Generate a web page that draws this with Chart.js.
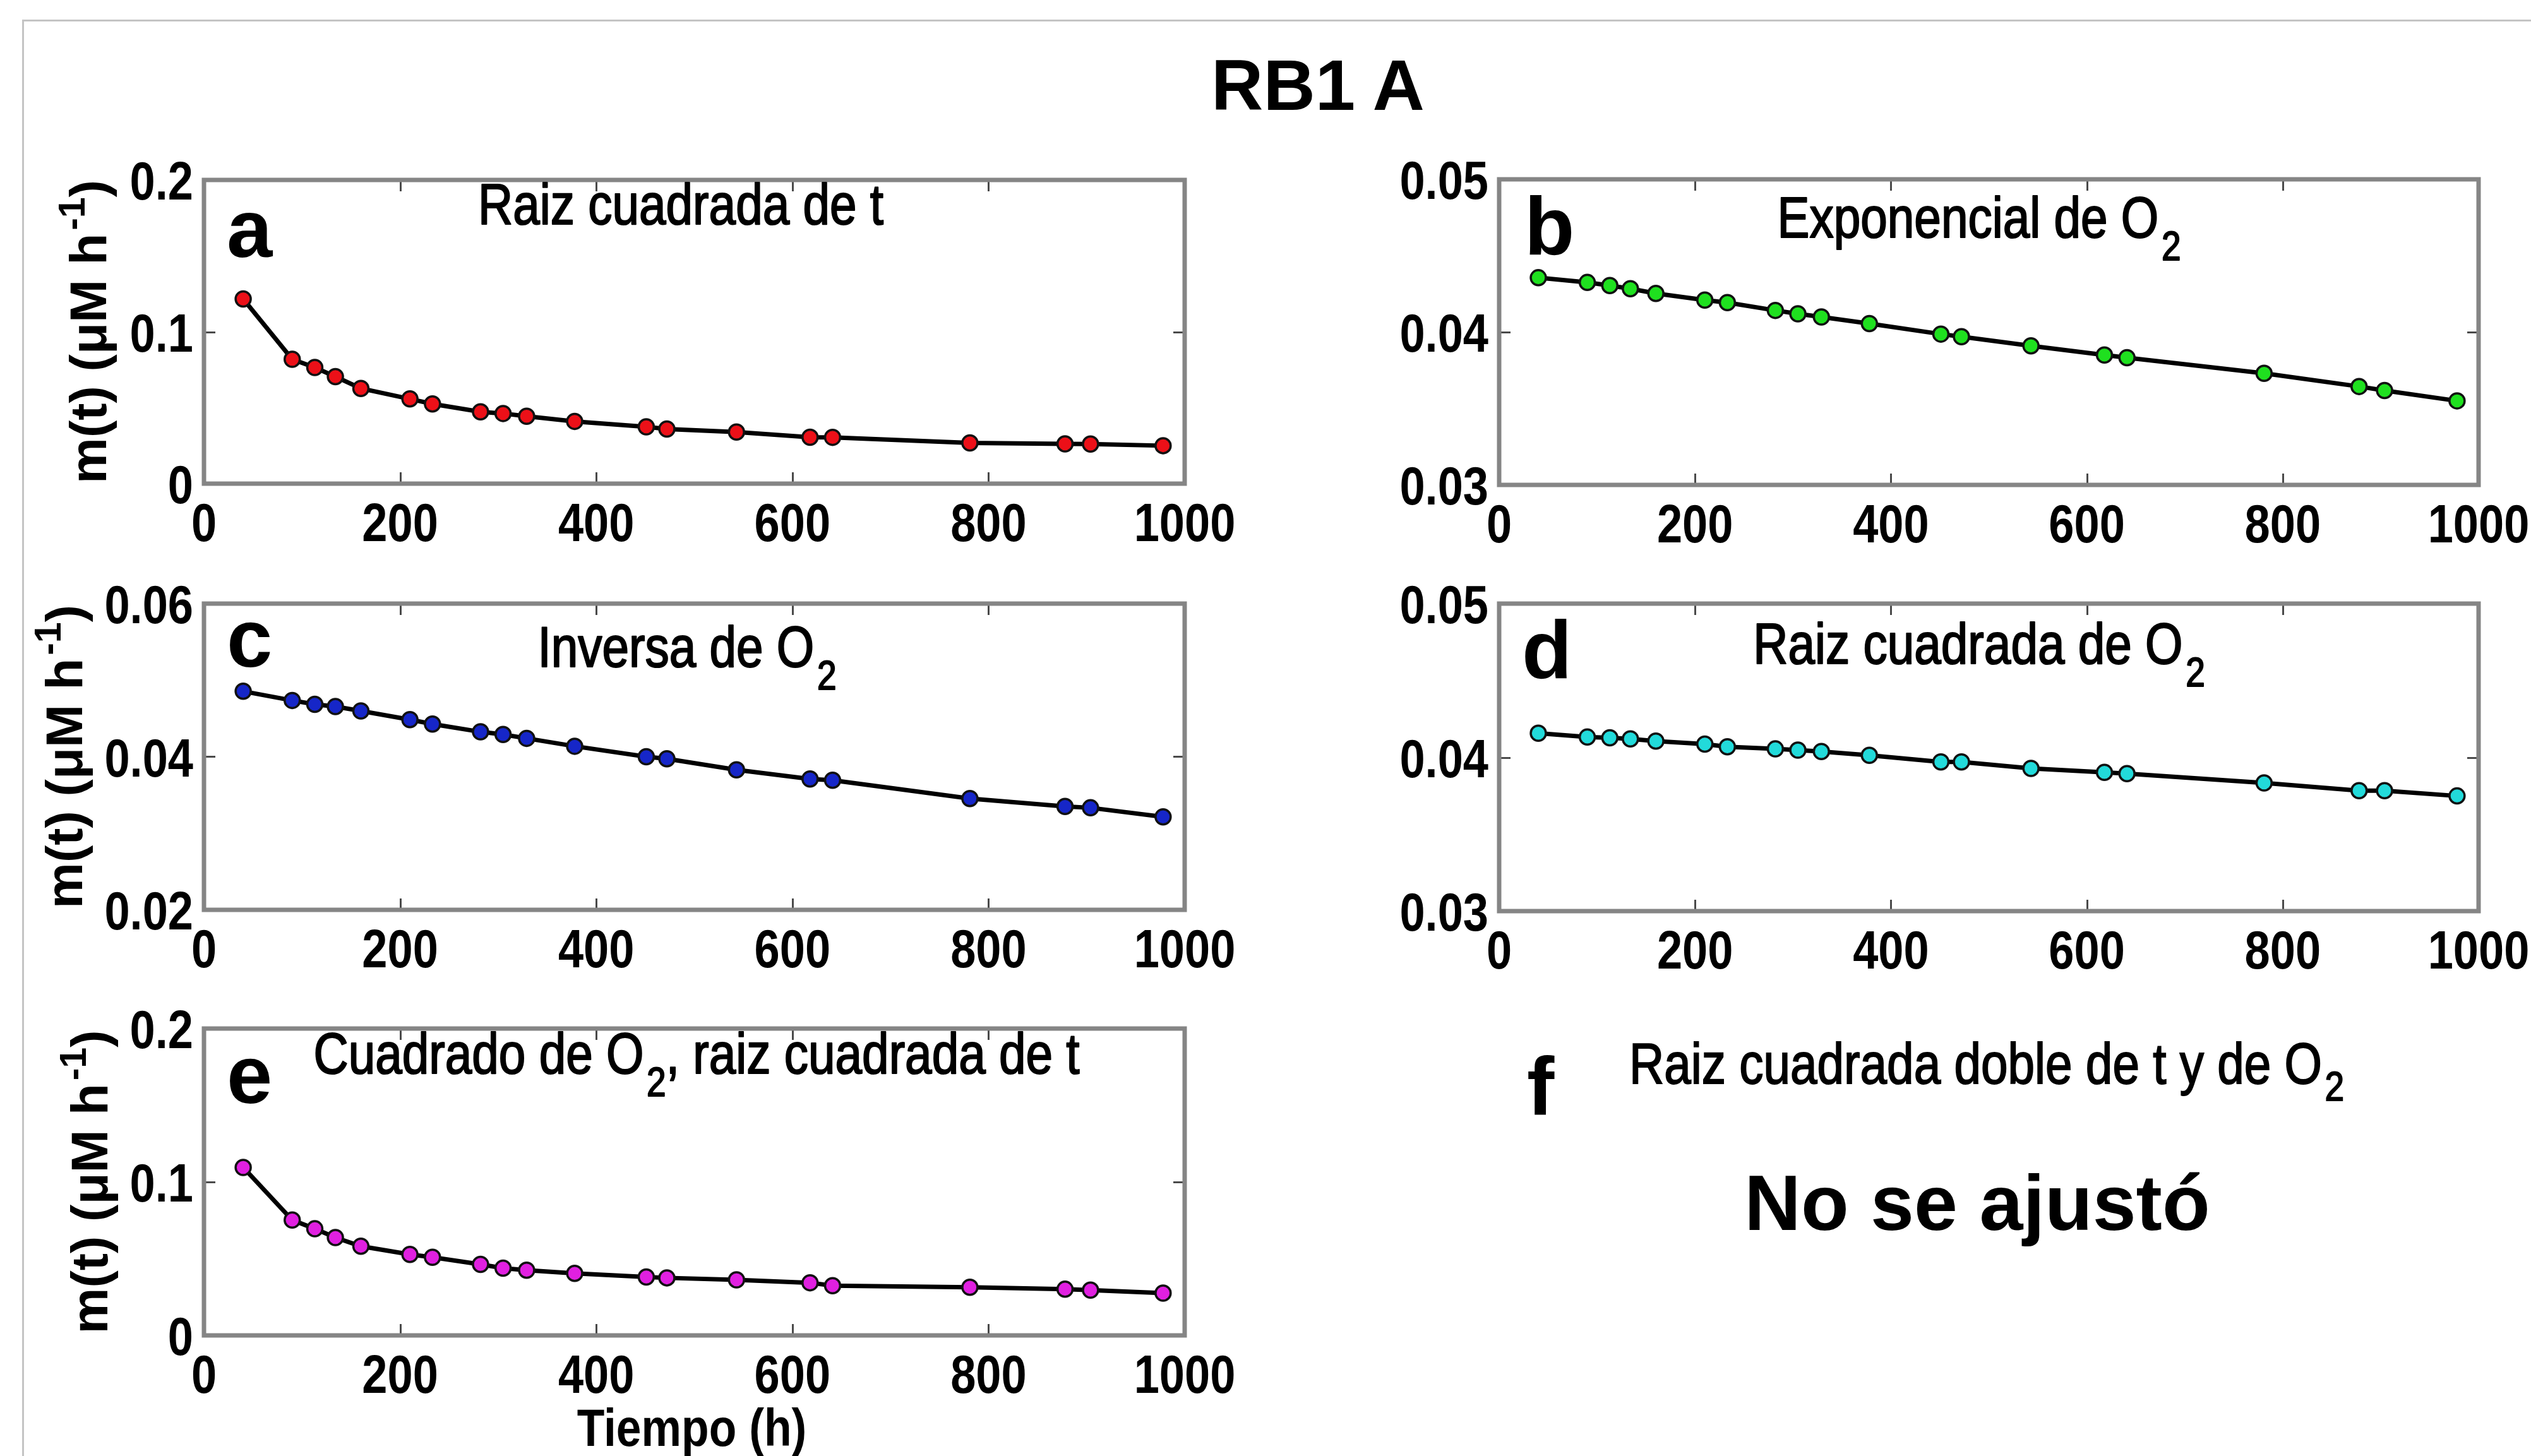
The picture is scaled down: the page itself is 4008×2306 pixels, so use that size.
<!DOCTYPE html>
<html>
<head>
<meta charset="utf-8">
<script src="https://cdn.jsdelivr.net/npm/chart.js@4.4.1/dist/chart.umd.min.js"></script>
<style>
  html, body { margin:0; padding:0; background:#fff; overflow:hidden; }
  #page { position:relative; width:4008px; height:2306px; background:#fff; overflow:hidden; }
  canvas { position:absolute; }
  .txt { position:absolute; white-space:nowrap; color:#000; line-height:1; }
  .frameTop { position:absolute; left:36px; top:31px; width:3972px; height:3px; background:#c4c4c4; }
  .frameLeft { position:absolute; left:35px; top:31px; width:3px; height:2275px; background:#c4c4c4; }
</style>
</head>
<body>
<div id="page">
  <div class="frameTop"></div>
  <div class="frameLeft"></div>
  <div class="txt" id="mainTitle" style="left:1087px; width:2000px; text-align:center; top:69px; font:bold 114px 'Liberation Sans', Arial, sans-serif;">RB1 A</div>
  <div class="txt" style="left:2418px; top:1645px; font:bold 130px 'Liberation Sans', Arial, sans-serif;">f</div>
  <div class="txt" style="left:2146px; width:2000px; text-align:center; top:1634px; font:90px 'Liberation Sans', Arial, sans-serif; -webkit-text-stroke:2px #000; transform:scaleX(0.85); transform-origin:1000px 50%;">Raiz cuadrada doble de t y de O<span style="font-size:0.72em; position:relative; top:0.42em; margin-left:0.08em;">2</span></div>
  <div class="txt" style="left:2131px; width:2000px; text-align:center; top:1834px; font:bold 124px 'Liberation Sans', Arial, sans-serif;">No se ajustó</div>
  <canvas id="cA"></canvas>
  <canvas id="cB"></canvas>
  <canvas id="cC"></canvas>
  <canvas id="cD"></canvas>
  <canvas id="cE"></canvas>
</div>
<script>
// ---------------- DATA ----------------
const tiempo = [40, 90, 113, 134, 160, 210, 233, 282, 305, 329, 378, 451, 472, 543, 618, 641, 781, 878, 904, 978];

const mA = [0.1216, 0.0819, 0.0765, 0.0705, 0.0627, 0.0558, 0.0525, 0.0473, 0.0462, 0.0444, 0.0410, 0.0374, 0.0360, 0.0340, 0.0306, 0.0305, 0.0268, 0.0262, 0.0261, 0.0250];
const mB = [0.04356, 0.04325, 0.04305, 0.04284, 0.04253, 0.04210, 0.04193, 0.04142, 0.04120, 0.04099, 0.04056, 0.03987, 0.03970, 0.03910, 0.03850, 0.03833, 0.03730, 0.03644, 0.03618, 0.03550];
const mC = [0.04855, 0.04735, 0.04684, 0.04656, 0.04598, 0.04485, 0.04427, 0.04325, 0.04290, 0.04240, 0.04137, 0.04000, 0.03973, 0.03829, 0.03710, 0.03692, 0.03453, 0.03350, 0.03333, 0.03214];
const mD = [0.04157, 0.04132, 0.04127, 0.04120, 0.04106, 0.04086, 0.04069, 0.04055, 0.04047, 0.04038, 0.04013, 0.03970, 0.03970, 0.03928, 0.03902, 0.03894, 0.03834, 0.03783, 0.03783, 0.03749];
const mE = [0.1095, 0.0752, 0.0695, 0.0638, 0.0581, 0.0528, 0.0509, 0.0463, 0.0438, 0.0425, 0.0404, 0.0381, 0.0375, 0.0362, 0.0343, 0.0324, 0.0314, 0.0301, 0.0295, 0.0276];

const xTicks = [0, 200, 400, 600, 800, 1000];
const xTickLabels = ['0', '200', '400', '600', '800', '1000'];

const yTicksA = [0, 0.1, 0.2];        const yLabelsA = ['0', '0.1', '0.2'];
const yTicksB = [0.03, 0.04, 0.05];   const yLabelsB = ['0.03', '0.04', '0.05'];
const yTicksC = [0.02, 0.04, 0.06];   const yLabelsC = ['0.02', '0.04', '0.06'];
const yTicksD = [0.03, 0.04, 0.05];   const yLabelsD = ['0.03', '0.04', '0.05'];
const yTicksE = [0, 0.1, 0.2];        const yLabelsE = ['0', '0.1', '0.2'];

const letters = ['a', 'b', 'c', 'd', 'e'];
const titleA = [{t: 'Raiz cuadrada de t'}];
const titleB = [{t: 'Exponencial de O'}, {t: '2', sub: true}];
const titleC = [{t: 'Inversa de O'}, {t: '2', sub: true}];
const titleD = [{t: 'Raiz cuadrada de O'}, {t: '2', sub: true}];
const titleE = [{t: 'Cuadrado de O'}, {t: '2', sub: true}, {t: ', raiz cuadrada de t'}];
const yTitle = [{t: 'm(t) (\u03BCM h'}, {t: '-1', sup: true}, {t: ')'}];
const xTitle = 'Tiempo (h)';

// ---------------- STYLE / LAYOUT ----------------
const SANS = "'Liberation Sans', Arial, sans-serif";
const SQUEEZE = 0.84;   // horizontal compression of the original figure's text

function drawSegments(ctx, segs, x, y, size, weight, align, sx, strokeW) {
  const parts = segs.map(s => {
    const small = s.sub || s.sup;
    const fs = small ? size * 0.72 : size;
    ctx.font = `${weight} ${fs}px ${SANS}`;
    const gap = small ? size * 0.06 : 0;
    return {s, fs, w: ctx.measureText(s.t).width + gap, gap};
  });
  const total = parts.reduce((a, p) => a + p.w, 0) * sx;
  ctx.save();
  ctx.translate(align === 'center' ? x - total / 2 : x, y);
  ctx.scale(sx, 1);
  ctx.textAlign = 'left';
  ctx.textBaseline = 'alphabetic';
  ctx.strokeStyle = '#000';
  ctx.lineJoin = 'round';
  let cx = 0;
  parts.forEach(p => {
    ctx.font = `${weight} ${p.fs}px ${SANS}`;
    let dy = 0;
    if (p.s.sub) dy = size * 0.40;
    if (p.s.sup) dy = -size * 0.42;
    ctx.fillText(p.s.t, cx + p.gap, dy);
    if (strokeW) { ctx.lineWidth = strokeW; ctx.strokeText(p.s.t, cx + p.gap, dy); }
    cx += p.w;
  });
  ctx.restore();
}

function squeezedText(ctx, text, x, y, align, font, sx) {
  ctx.save();
  ctx.translate(x, y);
  ctx.scale(sx, 1);
  ctx.font = font;
  ctx.textAlign = align;
  ctx.textBaseline = 'alphabetic';
  ctx.fillText(text, 0, 0);
  ctx.restore();
}

const decoPlugin = {
  id: 'deco',
  afterDraw(chart, args, o) {
    const {ctx, chartArea: ca, scales} = chart;
    const xs = scales.x, ys = scales.y;
    ctx.save();
    ctx.fillStyle = '#000';
    // tick labels (positions from the library scales)
    const tickFont = `bold 86px ${SANS}`;
    xs.ticks.forEach((t, i) => {
      squeezedText(ctx, o.xLabels[i], xs.getPixelForValue(t.value), ca.bottom + 91, 'center', tickFont, SQUEEZE);
    });
    ys.ticks.forEach((t, i) => {
      squeezedText(ctx, o.yLabels[i], ca.left - 17, ys.getPixelForValue(t.value) + 31, 'right', tickFont, SQUEEZE);
    });
    // inner tick marks on all four sides
    ctx.strokeStyle = '#4a4a4a';
    ctx.lineWidth = 3;
    ctx.beginPath();
    xs.ticks.forEach(t => {
      if (t.value <= xs.min || t.value >= xs.max) return;
      const px = Math.round(xs.getPixelForValue(t.value)) + 0.5;
      ctx.moveTo(px, ca.bottom); ctx.lineTo(px, ca.bottom - 18);
      ctx.moveTo(px, ca.top); ctx.lineTo(px, ca.top + 18);
    });
    ys.ticks.forEach(t => {
      if (t.value <= ys.min || t.value >= ys.max) return;
      const py = Math.round(ys.getPixelForValue(t.value)) + 0.5;
      ctx.moveTo(ca.left, py); ctx.lineTo(ca.left + 18, py);
      ctx.moveTo(ca.right, py); ctx.lineTo(ca.right - 18, py);
    });
    ctx.stroke();
    // axes box
    ctx.strokeStyle = '#858585';
    ctx.lineWidth = 7;
    ctx.strokeRect(ca.left, ca.top, ca.right - ca.left, ca.bottom - ca.top);
    // panel letter
    ctx.font = `bold 130px ${SANS}`;
    ctx.textAlign = 'left';
    ctx.textBaseline = 'alphabetic';
    ctx.fillText(o.letter, ca.left + o.letterDx, ca.top + o.letterDy);
    // panel title
    drawSegments(ctx, o.title, o.titleCx, ca.top + o.titleDy, 90, 'normal', 'center', 0.85, 2.2);
    // y axis title
    if (o.yTitleX) {
      ctx.save();
      ctx.translate(o.yTitleX, (ca.top + ca.bottom) / 2);
      ctx.rotate(-Math.PI / 2);
      drawSegments(ctx, yTitle, 0, 0, 82, 'bold', 'center', 1, 0);
      ctx.restore();
    }
    // x axis title
    if (o.xTitle) {
      squeezedText(ctx, o.xTitle, (ca.left + ca.right) / 2 - 4, o.xTitleY, 'center', `bold 84px ${SANS}`, 0.85);
    }
    ctx.restore();
  }
};

function makePanel(id, box, vals, color, yMin, yMax, yTicks, yLabels, deco) {
  const padTop = 90, yAxisW = 323;
  const canvasLeft = box.L - yAxisW;
  const canvasTop = box.T - padTop;
  const width = yAxisW + (box.R - box.L) + box.padR;
  const height = box.bottom - canvasTop;
  const xAxisH = height - padTop - (box.B - box.T);
  const cv = document.getElementById(id);
  cv.width = width; cv.height = height;
  cv.style.left = canvasLeft + 'px'; cv.style.top = canvasTop + 'px';
  cv.style.width = width + 'px'; cv.style.height = height + 'px';

  const d = Object.assign({}, deco, {xLabels: xTickLabels, yLabels: yLabels});
  d.titleCx = deco.titleCx - canvasLeft;
  if (deco.yTitleX) d.yTitleX = deco.yTitleX - canvasLeft;
  if (deco.xTitleY) d.xTitleY = deco.xTitleY - canvasTop;

  return new Chart(cv, {
    type: 'line',
    data: {
      datasets: [{
        data: tiempo.map((t, i) => ({x: t, y: vals[i]})),
        borderColor: '#000',
        borderWidth: 7,
        tension: 0,
        fill: false,
        pointRadius: 12,
        pointBorderWidth: 3.5,
        pointBackgroundColor: color,
        pointBorderColor: '#111',
        pointStyle: 'circle'
      }]
    },
    options: {
      responsive: false,
      animation: false,
      devicePixelRatio: 1,
      layout: {padding: {left: 0, top: padTop, right: box.padR, bottom: 0}},
      plugins: {legend: {display: false}, tooltip: {enabled: false}, title: {display: false}, deco: d},
      scales: {
        x: {
          type: 'linear', min: 0, max: 1000,
          afterBuildTicks: s => { s.ticks = xTicks.map(v => ({value: v})); },
          afterFit: s => { s.height = xAxisH; },
          ticks: {display: false, autoSkip: false, callback: (v, i) => xTickLabels[i]},
          grid: {display: false, drawTicks: false},
          border: {display: false}
        },
        y: {
          type: 'linear', min: yMin, max: yMax,
          afterBuildTicks: s => { s.ticks = yTicks.map(v => ({value: v})); },
          afterFit: s => { s.width = yAxisW; },
          ticks: {display: false, autoSkip: false, callback: (v, i) => yLabels[i]},
          grid: {display: false, drawTicks: false},
          border: {display: false}
        }
      }
    },
    plugins: [decoPlugin]
  });
}

makePanel('cA', {L: 323, T: 285, R: 1876, B: 766, padR: 110, bottom: 906}, mA, '#ec1018', 0, 0.2, yTicksA, yLabelsA,
  {letter: letters[0], letterDx: 36, letterDy: 122, title: titleA, titleCx: 1078, titleDy: 70, yTitleX: 168});
makePanel('cB', {L: 2374, T: 284, R: 3925, B: 768, padR: 85, bottom: 906}, mB, '#1fe01f', 0.03, 0.05, yTicksB, yLabelsB,
  {letter: letters[1], letterDx: 40, letterDy: 119, title: titleB, titleCx: 3134, titleDy: 92});
makePanel('cC', {L: 323, T: 956, R: 1876, B: 1441, padR: 110, bottom: 1580}, mC, '#1626c8', 0.02, 0.06, yTicksC, yLabelsC,
  {letter: letters[2], letterDx: 36, letterDy: 100, title: titleC, titleCx: 1088, titleDy: 100, yTitleX: 130});
makePanel('cD', {L: 2374, T: 956, R: 3925, B: 1443, padR: 85, bottom: 1580}, mD, '#22dada', 0.03, 0.05, yTicksD, yLabelsD,
  {letter: letters[3], letterDx: 36, letterDy: 118, title: titleD, titleCx: 3134, titleDy: 95});
makePanel('cE', {L: 323, T: 1629, R: 1876, B: 2115, padR: 110, bottom: 2306}, mE, '#e020e0', 0, 0.2, yTicksE, yLabelsE,
  {letter: letters[4], letterDx: 36, letterDy: 118, title: titleE, titleCx: 1103, titleDy: 71, yTitleX: 170,
   xTitle: xTitle, xTitleY: 2290});
</script>
</body>
</html>
